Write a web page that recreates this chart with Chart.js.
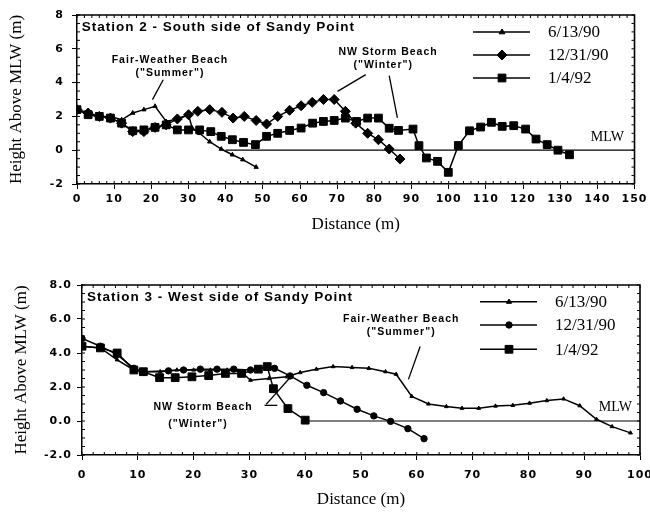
<!DOCTYPE html>
<html><head><meta charset="utf-8">
<script src="https://cdn.jsdelivr.net/npm/chart.js@4.4.0/dist/chart.umd.min.js"></script>
<style>
html,body{margin:0;padding:0;background:#fff;overflow:hidden;width:650px;height:512px;position:relative;}
#w1{position:absolute;left:0;top:0;width:650px;height:256px;}
#w2{position:absolute;left:0;top:256px;width:670px;height:256px;}
canvas{display:block;}
</style></head><body>
<div id="w1"><canvas id="c1" width="650" height="256"></canvas></div>
<div id="w2"><canvas id="c2" width="670" height="256"></canvas></div>
<script>
// ---------- Station 2 (top) : [distance m, height above MLW m] ----------
const seriesLabels = ['6/13/90', '12/31/90', '1/4/92'];
const s2_061390 = [[0,2.4],[3,2.2],[6,2.0],[9,2.0],[12,1.8],[15,2.2],[18,2.4],[21,2.6],[24,1.7],[27,1.85],[30,2.1],[31,1.3],[33,1.0],[35.7,0.5],[38.8,0.07],[41.8,-0.27],[44.6,-0.56],[48.2,-1.0]];
const s2_123190 = [[0,2.4],[3,2.2],[6,2.0],[9,1.9],[12,1.6],[15,1.1],[18,1.1],[21,1.35],[24,1.5],[27,1.85],[30,2.1],[32.5,2.3],[35.7,2.4],[39,2.24],[42,1.9],[45,2.0],[48.2,1.76],[51,1.55],[54,2.0],[57.2,2.36],[60.3,2.63],[63.3,2.83],[66.3,3.0],[69.2,3.0],[72.2,2.3],[75,1.6],[78.2,1.0],[81.1,0.62],[84,0.07],[86.9,-0.52]];
const s2_010492 = [[0,2.4],[3,2.1],[6,2.0],[9,1.9],[12,1.6],[15,1.15],[18,1.2],[21,1.35],[24,1.5],[27,1.2],[30,1.2],[33,1.2],[36,1.1],[38.8,0.82],[41.8,0.62],[44.8,0.46],[48,0.33],[51,0.82],[54,1.0],[57.2,1.17],[60.3,1.31],[63.4,1.6],[66.3,1.7],[69.2,1.76],[72.2,1.9],[75.2,1.7],[78.2,1.9],[81.1,1.9],[84,1.3],[86.5,1.17],[90.4,1.25],[92,0.27],[94,-0.46],[97,-0.66],[99.9,-1.31],[102.6,0.28],[105.6,1.15],[108.6,1.37],[111.5,1.65],[114.4,1.41],[117.5,1.45],[120.7,1.25],[123.5,0.66],[126.5,0.33],[129.4,0.0],[132.5,-0.27]];
const s2_mlw = [[40,0],[150,0]];
const s2_xTicks = [0,150,10];   // min, max, step
const s2_yTicks = [-2,8,2];

// ---------- Station 3 (bottom) ----------
const s3_061390 = [[0,4.4],[3.3,4.3],[6.3,3.6],[9.3,3.0],[11,2.9],[14,2.9],[17,3.0],[20,3.0],[23,3.0],[26,3.0],[28.5,2.9],[30.2,2.4],[33.5,2.5],[36.7,2.6],[39.1,2.85],[42,3.05],[45,3.2],[48.4,3.15],[51.4,3.1],[54.4,2.9],[56.3,2.75],[59.1,1.45],[62.1,1.0],[65.3,0.85],[68.1,0.75],[71.1,0.75],[74.1,0.88],[77.2,0.92],[80.2,1.05],[83.3,1.2],[86.3,1.3],[89.2,0.9],[92.2,0.1],[95,-0.33],[98.3,-0.7]];
const s3_123190 = [[0,4.85],[3.3,4.4],[6.3,3.9],[9.3,3.1],[11,2.9],[15.5,2.95],[18.2,3.0],[21.2,3.05],[24.2,3.05],[27.2,3.05],[30.2,3.0],[31.6,3.05],[33.2,3.2],[34.5,3.1],[37.3,2.65],[40.3,2.1],[43.3,1.67],[46.3,1.18],[49.3,0.69],[52.3,0.3],[55.3,-0.02],[58.4,-0.45],[61.3,-1.04]];
const s3_010492 = [[0,4.4],[3.3,4.3],[6.3,4.0],[9.3,3.0],[11,2.9],[13.9,2.55],[16.7,2.55],[19.7,2.6],[22.7,2.67],[25.7,2.8],[28.6,2.8],[31.6,3.05],[33.2,3.2],[34.3,1.9],[36.9,0.73],[40,0.05]];
const s3_mlw = [[40,0],[100,0]];
const s3_xTicks = [0,100,10];
const s3_yTicks = [-2,8,2];

const toXY = a => a.map(p => ({x:p[0], y:p[1]}));

function ds(label, arr, style, radius){
  return {label, data: toXY(arr), borderColor:'#000', backgroundColor:'#000', borderWidth:1.5,
    pointStyle: style, pointRadius: radius, pointHoverRadius: radius, pointBorderWidth:1, tension:0, fill:false};
}
function mlwDs(arr){
  return {label:'MLW', data: toXY(arr), borderColor:'#000', borderWidth:1.2, pointRadius:0, fill:false};
}

function drawMarker(ctx, style, r, x, y){
  ctx.beginPath();
  if (style === 'rect'){ const s = r*Math.SQRT1_2; ctx.rect(x-s, y-s, 2*s, 2*s); }
  else if (style === 'rectRot'){ ctx.moveTo(x, y-r); ctx.lineTo(x+r, y); ctx.lineTo(x, y+r); ctx.lineTo(x-r, y); ctx.closePath(); }
  else if (style === 'triangle'){ const s = r*1.2; ctx.moveTo(x, y-s); ctx.lineTo(x+s, y+s*0.6); ctx.lineTo(x-s, y+s*0.6); ctx.closePath(); }
  else { ctx.arc(x, y, r, 0, Math.PI*2); }
  ctx.fill(); ctx.stroke();
}

function decor(o){
  return {
    id: 'decor',
    afterDatasetsDraw(chart){
      const ctx = chart.ctx, a = chart.chartArea, xs = chart.scales.x, ys = chart.scales.y;
      ctx.save();
      ctx.strokeStyle = '#000'; ctx.fillStyle = '#000';
      ctx.lineWidth = 1.6;
      ctx.beginPath(); ctx.moveTo(a.left, a.top); ctx.lineTo(a.right, a.top); ctx.lineTo(a.right, a.bottom); ctx.stroke();
      ctx.lineWidth = 1;
      ctx.beginPath();
      for (let v = ys.min; v <= ys.max + 1e-9; v += o.yMinor){
        const p = ys.getPixelForValue(v);
        ctx.moveTo(a.left, p); ctx.lineTo(a.left + 3, p);
        ctx.moveTo(a.right, p); ctx.lineTo(a.right - 3, p);
      }
      for (let v = xs.min; v <= xs.max + 1e-9; v += o.xMinor){
        const p = xs.getPixelForValue(v);
        ctx.moveTo(p, a.bottom); ctx.lineTo(p, a.bottom - 3);
        ctx.moveTo(p, a.top); ctx.lineTo(p, a.top + 3);
      }
      ctx.stroke();
      ctx.lineWidth = 1.3;
      o.lines.forEach(L => {
        ctx.beginPath();
        L.forEach((pt, i) => { const X = xs.getPixelForValue(pt[0]), Y = ys.getPixelForValue(pt[1]); i ? ctx.lineTo(X, Y) : ctx.moveTo(X, Y); });
        ctx.stroke();
      });
      ctx.textBaseline = 'middle';
      o.texts.forEach(t => {
        ctx.font = t.font; ctx.textAlign = t.align || 'center'; ctx.letterSpacing = t.ls || '0px';
        ctx.fillText(t.text, xs.getPixelForValue(t.x), ys.getPixelForValue(t.y));
      });
      // legend
      ctx.letterSpacing = '0px';
      ctx.textAlign = 'left';
      ctx.font = '17px "Liberation Serif", "Times New Roman", serif';
      const sets = chart.data.datasets.filter(d => d.label !== 'MLW');
      sets.forEach((d, i) => {
        const y = o.legend.rows[i];
        ctx.lineWidth = d.borderWidth;
        ctx.beginPath(); ctx.moveTo(o.legend.x1, y); ctx.lineTo(o.legend.x2, y); ctx.stroke();
        ctx.lineWidth = 1;
        drawMarker(ctx, d.pointStyle, d.pointRadius, o.legend.xm, y);
        ctx.fillText(d.label, o.legend.xt, y + 1);
      });
      ctx.restore();
      ctx.letterSpacing = '1px';   // tick labels (drawn after datasets, z=1)
    },
    afterDraw(chart){ chart.ctx.letterSpacing = '0px'; }
  };
}

const tickFont = {family:'"DejaVu Sans", sans-serif', size:11, weight:'bold'};
const titleFont = {family:'"Liberation Serif", "Times New Roman", serif', size:17};
const annFont = 'bold 10.5px "Liberation Sans", Arial, sans-serif';
const ttlFont = 'bold 13.5px "Liberation Sans", Arial, sans-serif';
const mlwFont = '14px "Liberation Serif", "Times New Roman", serif';

function axes(xT, yT, yFmt, xH, yW, xTitlePad, yTitlePad, xTickPad, yTickPad){
  return {
    x: {type:'linear', min:xT[0], max:xT[1],
      ticks:{stepSize:xT[2], color:'#000', font:tickFont, padding:xTickPad, z:1, maxRotation:0, autoSkip:false},
      grid:{drawOnChartArea:false, drawTicks:true, tickLength:5, color:'#000', lineWidth:1},
      border:{color:'#000', width:1.5},
      title:{display:true, text:'Distance (m)', color:'#000', font:titleFont, padding:{top:0,bottom:xTitlePad}},
      afterFit: s => { s.height = xH; }
    },
    y: {type:'linear', min:yT[0], max:yT[1],
      ticks:{stepSize:yT[2], color:'#000', font:tickFont, padding:yTickPad, z:1, callback: yFmt},
      grid:{drawOnChartArea:false, drawTicks:true, tickLength:5, color:'#000', lineWidth:1},
      border:{color:'#000', width:1.5},
      title:{display:true, text:'Height Above MLW (m)', color:'#000', font:titleFont, padding:{top:yTitlePad,bottom:0}},
      afterFit: s => { s.width = yW; }
    }
  };
}

const common = {responsive:false, animation:false, devicePixelRatio:1,
  plugins:{legend:{display:false}, tooltip:{enabled:false}}, events:[]};

new Chart(document.getElementById('c1'), {
  type:'line',
  data:{datasets:[
    ds(seriesLabels[0], s2_061390, 'triangle', 2.5),
    ds(seriesLabels[1], s2_123190, 'rectRot', 5),
    ds(seriesLabels[2], s2_010492, 'rect', 5.5),
    mlwDs(s2_mlw)
  ]},
  options: Object.assign({}, common, {
    layout:{padding:{top:15, right:14, left:0, bottom:0}},
    scales: axes(s2_xTicks, s2_yTicks, v => v, 72, 77, 21, 6, 4, 8)
  }),
  plugins:[decor({
    xMinor:2, yMinor:0.5,
    lines:[[[23.2,4.17],[20.3,2.99]], [[77.7,4.47],[70.1,3.48]], [[84,4.41],[86.2,1.91]]],
    texts:[
      {text:'Station 2 - South side of Sandy Point', x:1.3, y:7.25, font:ttlFont, align:'left', ls:'1px'},
      {text:'Fair-Weather Beach', x:25, y:5.36, font:annFont, ls:'1px'},
      {text:'("Summer")', x:25, y:4.59, font:annFont, ls:'1px'},
      {text:'NW Storm Beach', x:83.7, y:5.83, font:annFont, ls:'1px'},
      {text:'("Winter")', x:82.4, y:5.06, font:annFont, ls:'1px'},
      {text:'MLW', x:142.7, y:0.74, font:mlwFont}
    ],
    legend:{x1:473, x2:530, xm:502, xt:548, rows:[32, 55, 78]}
  })]
});

new Chart(document.getElementById('c2'), {
  type:'line',
  data:{datasets:[
    ds(seriesLabels[0], s3_061390, 'triangle', 2.2),
    ds(seriesLabels[1], s3_123190, 'circle', 3.2),
    ds(seriesLabels[2], s3_010492, 'rect', 5.5),
    mlwDs(s3_mlw)
  ]},
  options: Object.assign({}, common, {
    layout:{padding:{top:29, right:30, left:0, bottom:0}},
    scales: axes(s3_xTicks, s3_yTicks, v => Number(v).toFixed(1), 57, 82, 2, 11, 9, 5)
  }),
  plugins:[decor({
    xMinor:2, yMinor:0.5,
    lines:[[[60.6,4.38],[58.5,2.45]], [[33.0,0.98],[37.5,2.63]], [[32.7,0.92],[35.0,0.92]]],
    texts:[
      {text:'Station 3 - West side of Sandy Point', x:0.9, y:7.28, font:ttlFont, align:'left', ls:'1px'},
      {text:'Fair-Weather Beach', x:57.2, y:5.98, font:annFont, ls:'1px'},
      {text:'("Summer")', x:57.2, y:5.22, font:annFont, ls:'1px'},
      {text:'NW Storm Beach', x:21.7, y:0.8, font:annFont, ls:'1px'},
      {text:'("Winter")', x:20.8, y:-0.2, font:annFont, ls:'1px'},
      {text:'MLW', x:95.6, y:0.81, font:mlwFont}
    ],
    legend:{x1:480, x2:537, xm:509, xt:555, rows:[45.7, 69, 93.3]}
  })]
});
</script>
</body></html>
